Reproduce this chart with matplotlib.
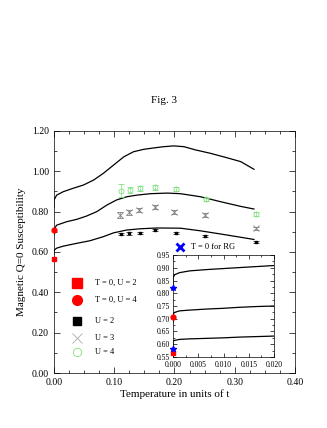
import matplotlib
matplotlib.use("Agg")
import matplotlib.pyplot as plt
from matplotlib.ticker import MultipleLocator

plt.rcParams["font.family"] = ["Liberation Serif", "DejaVu Serif"]

# main-panel theory curves
top_x = [0.0, 0.0, 0.0045, 0.0155, 0.032, 0.049, 0.066, 0.082, 0.099, 0.116, 0.132, 0.149,
         0.166, 0.182, 0.199, 0.216, 0.235, 0.26, 0.285, 0.31, 0.332]
top_y = [0.82, 0.857, 0.882, 0.899, 0.916, 0.932, 0.957, 0.99, 1.031, 1.072, 1.097, 1.109,
         1.116, 1.122, 1.126, 1.122, 1.106, 1.089, 1.069, 1.048, 1.01]
mid_x = [0.0, 0.0, 0.0045, 0.021, 0.038, 0.054, 0.071, 0.088, 0.104, 0.121, 0.138, 0.16,
         0.188, 0.21, 0.243, 0.277, 0.31, 0.332]
mid_y = [0.685, 0.712, 0.733, 0.75, 0.762, 0.778, 0.80, 0.833, 0.858, 0.874, 0.882, 0.889,
         0.892, 0.889, 0.874, 0.849, 0.826, 0.813]
bot_x = [0.0, 0.0, 0.0045, 0.0155, 0.038, 0.06, 0.082, 0.099, 0.121, 0.143, 0.171, 0.21,
         0.243, 0.277, 0.31, 0.332]
bot_y = [0.59, 0.608, 0.619, 0.629, 0.643, 0.656, 0.676, 0.695, 0.709, 0.715, 0.719, 0.718,
         0.705, 0.689, 0.673, 0.662]

# simulation data
t_u4 = [0.112, 0.126, 0.143, 0.168, 0.203, 0.252, 0.335]
chi_u4 = [0.904, 0.907, 0.915, 0.92, 0.912, 0.861, 0.788]
err_u4 = [0.033, 0.017, 0.013, 0.012, 0.01, 0.008, 0.008]
t_u3 = [0.109, 0.125, 0.141, 0.168, 0.20, 0.25, 0.335]
chi_u3 = [0.783, 0.796, 0.808, 0.824, 0.796, 0.783, 0.717]
err_u3 = [0.013, 0.012, 0.011, 0.01, 0.01, 0.009, 0.008]
t_u2 = [0.111, 0.125, 0.143, 0.168, 0.202, 0.251, 0.335]
chi_u2 = [0.689, 0.692, 0.695, 0.707, 0.692, 0.679, 0.651]
err_u2 = [0.007, 0.006, 0.006, 0.005, 0.005, 0.005, 0.005]

# T = 0 values
t0_u2 = 0.565
t0_u4 = 0.708
rg_vals = [0.82, 0.583]

# inset curves
ix = [0.0, 0.0, 0.00033, 0.0013, 0.0033, 0.0066, 0.0099, 0.0132, 0.0166, 0.02]
i_top = [0.82, 0.861, 0.873, 0.881, 0.888, 0.893, 0.897, 0.901, 0.905, 0.909]
i_mid = [0.685, 0.718, 0.725, 0.731, 0.734, 0.738, 0.741, 0.745, 0.748, 0.75]
i_bot = [0.59, 0.612, 0.615, 0.619, 0.621, 0.623, 0.625, 0.628, 0.630, 0.632]

legend_labels = ["T = 0, U = 2", "T = 0, U = 4", "U = 2", "U = 3", "U = 4"]
legend_y = [0.447, 0.361, 0.258, 0.174, 0.103]

GREEN = "#7ee07e"

fig = plt.figure(figsize=(3.27, 4.28), dpi=100)
ax = fig.add_axes([0.165, 0.1285, 0.737, 0.5655])

for xs, ys in ((top_x, top_y), (mid_x, mid_y), (bot_x, bot_y)):
    ax.plot(xs, ys, color="black", lw=0.9)

ax.errorbar(t_u4, chi_u4, yerr=err_u4, fmt="o", mfc="none", mec=GREEN, ms=3.6,
            mew=0.6, ecolor=GREEN, elinewidth=0.5, capsize=2.5, capthick=0.5)
ax.errorbar(t_u3, chi_u3, yerr=err_u3, fmt="x", color="gray", ms=4, mew=0.6,
            ecolor="gray", elinewidth=0.5, capsize=2.5, capthick=0.5)
ax.errorbar(t_u2, chi_u2, yerr=err_u2, fmt="s", color="black", ms=1.8,
            ecolor="black", elinewidth=0.5, capsize=2, capthick=0.5)

ax.plot([0.0], [t0_u2], "s", color="red", ms=3.5, clip_on=False, zorder=5)
ax.plot([0.0], [t0_u4], "o", color="red", ms=3.5, clip_on=False, zorder=5)

# legend drawn in data coords
lx, tx = 0.038, 0.068
ax.plot([lx], [legend_y[0]], "s", color="red", ms=7)
ax.plot([lx], [legend_y[1]], "o", color="red", ms=7)
ax.plot([lx], [legend_y[2]], "s", color="black", ms=6)
ax.plot([lx], [legend_y[3]], "x", color="#aaaaaa", ms=7, mew=0.6)
ax.plot([lx], [legend_y[4]], "o", mfc="none", mec=GREEN, ms=6, mew=0.6)
for lab, yy in zip(legend_labels, legend_y):
    ax.text(tx, yy, lab, fontsize=6, va="center", ha="left")

ax.plot([0.21], [0.626], "x", color="blue", ms=6, mew=2)
ax.text(0.228, 0.626, "T = 0 for RG", fontsize=6, va="center", ha="left")

ax.set_xlim(0, 0.4)
ax.set_ylim(0, 1.2)
ax.xaxis.set_major_locator(MultipleLocator(0.1))
ax.xaxis.set_minor_locator(MultipleLocator(0.025))
ax.yaxis.set_major_locator(MultipleLocator(0.2))
ax.yaxis.set_minor_locator(MultipleLocator(0.1))
ax.xaxis.set_major_formatter(lambda v, p: f"{v:.2f}")
ax.yaxis.set_major_formatter(lambda v, p: f"{v:.2f}")
ax.tick_params(which="both", direction="in", top=True, right=True, labelsize=7, width=0.5)
ax.tick_params(which="major", length=4)
ax.tick_params(which="minor", length=2)
for s in ax.spines.values():
    s.set_linewidth(0.5)
ax.set_xlabel("Temperature in units of t", fontsize=8, labelpad=2)
ax.set_ylabel("Magnetic Q=0 Susceptibility", fontsize=8, labelpad=4)

fig.text(0.502, 0.766, "Fig. 3", fontsize=8, ha="center", va="center")

# inset
ins = fig.add_axes([0.529, 0.166, 0.309, 0.238])
for c in (i_top, i_mid, i_bot):
    ins.plot(ix, c, color="black", lw=0.9)
ins.plot([0.0, 0.0], rg_vals, "*", color="blue", ms=4, clip_on=False, zorder=5)
ins.plot([0.0], [t0_u4], "o", color="red", ms=3.5, clip_on=False, zorder=4)
ins.plot([0.0], [t0_u2], "s", color="red", ms=3.5, clip_on=False, zorder=4)
ins.set_xlim(0, 0.02)
ins.set_ylim(0.55, 0.95)
ins.xaxis.set_major_locator(MultipleLocator(0.005))
ins.xaxis.set_minor_locator(MultipleLocator(0.0025))
ins.yaxis.set_major_locator(MultipleLocator(0.05))
ins.yaxis.set_minor_locator(MultipleLocator(0.025))
ins.xaxis.set_major_formatter(lambda v, p: f"{v:.3f}")
ins.yaxis.set_major_formatter(lambda v, p: f"{v:.2f}")
ins.tick_params(which="both", direction="in", top=True, right=True, labelsize=5.5, width=0.5, pad=2)
ins.tick_params(axis="x", pad=3)
ins.tick_params(which="major", length=3)
ins.tick_params(which="minor", length=1.5)
for s in ins.spines.values():
    s.set_linewidth(0.5)

fig.savefig("out.png", dpi=100)
